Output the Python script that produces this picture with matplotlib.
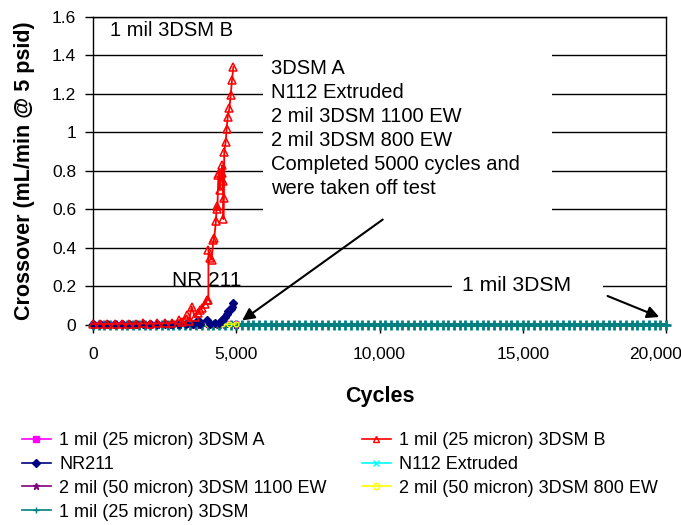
import matplotlib
matplotlib.use('Agg')
import matplotlib.pyplot as plt
from matplotlib.lines import Line2D
from matplotlib.patches import Rectangle
from matplotlib.ticker import FuncFormatter
from matplotlib.transforms import ScaledTranslation

plt.rcParams['font.family'] = ['Liberation Sans', 'DejaVu Sans']

# ---- data ----
short_cycles = [0, 250, 500, 750, 1000, 1250, 1500, 1750, 2000, 2250, 2500,
                2750, 3000, 3250, 3500, 3750, 4000, 4250, 4500, 4750, 5000]

a_vals = [0.010, 0.011, 0.010, 0.012, 0.010, 0.011, 0.010, 0.011, 0.012, 0.010, 0.011,
          0.010, 0.012, 0.011, 0.010, 0.011, 0.012, 0.010, 0.011, 0.010, 0.011]
n112_vals = [0.003, 0.004, 0.003, 0.004, 0.003, 0.003, 0.004, 0.003, 0.004, 0.003, 0.003,
             0.004, 0.003, 0.003, 0.004, 0.003, 0.004, 0.003, 0.003, 0.004, 0.003]
ew1100_vals = [0.002, 0.003, 0.002, 0.002, 0.003, 0.002, 0.002, 0.003, 0.002, 0.002, 0.003,
               0.002, 0.002, 0.003, 0.002, 0.002, 0.003, 0.002, 0.002, 0.003, 0.002]
ew800_vals = [0.004, 0.004, 0.005, 0.004, 0.004, 0.005, 0.004, 0.004, 0.005, 0.004, 0.004,
              0.005, 0.004, 0.004, 0.005, 0.004, 0.004, 0.005, 0.004, 0.004, 0.005]

b_cycles = [0, 250, 500, 750, 1000, 1250, 1500, 1750, 2000, 2250, 2500, 2750, 3000,
            3100, 3270, 3350, 3445, 3550, 3650, 3735, 3800, 3910, 3980, 4025, 4030,
            4100, 4140, 4200, 4230, 4290, 4315, 4340, 4375, 4400, 4430, 4490, 4510,
            4530, 4550, 4570, 4580, 4630, 4665, 4700, 4760, 4805, 4850, 4897]
b_vals = [0.005, 0.006, 0.005, 0.006, 0.007, 0.006, 0.007, 0.008, 0.007, 0.008, 0.009, 0.010, 0.026,
          0.015, 0.050, 0.020, 0.095, 0.040, 0.060, 0.078, 0.090, 0.110, 0.130, 0.130, 0.390,
          0.350, 0.340, 0.440, 0.450, 0.540, 0.620, 0.600, 0.780, 0.790, 0.700, 0.790, 0.830,
          0.750, 0.550, 0.660, 0.900, 0.950, 1.020, 1.080, 1.125, 1.195, 1.270, 1.340]

nr_cycles = [0, 250, 500, 750, 1000, 1250, 1500, 1750, 2000, 2250, 2500, 2750, 3000,
             3250, 3500, 3680, 3750, 3970, 4100, 4250, 4400, 4490, 4550, 4610, 4680,
             4725, 4800, 4840, 4897]
nr_vals = [0.005, 0.005, 0.006, 0.005, 0.005, 0.006, 0.005, 0.005, 0.006, 0.005, 0.005, 0.006, 0.005,
           0.006, 0.005, 0.026, 0.005, 0.026, 0.005, 0.010, 0.010, 0.026, 0.030, 0.043, 0.055,
           0.070, 0.085, 0.095, 0.113]

teal_cycles = list(range(0, 20001, 200))
teal_vals = [0.001, 0.002, 0.001, 0.002, 0.001, 0.002, 0.001, 0.002, 0.001, 0.002,
             0.001, 0.002, 0.001, 0.002, 0.001, 0.002, 0.001, 0.002, 0.001, 0.002,
             0.001, 0.002, 0.001, 0.002, 0.001, 0.002, 0.001, 0.002, 0.001, 0.002,
             0.001, 0.002, 0.001, 0.002, 0.001, 0.002, 0.001, 0.002, 0.001, 0.002,
             0.001, 0.002, 0.001, 0.002, 0.001, 0.002, 0.001, 0.002, 0.001, 0.002,
             0.001, 0.002, 0.001, 0.002, 0.001, 0.002, 0.001, 0.002, 0.001, 0.002,
             0.001, 0.002, 0.001, 0.002, 0.001, 0.002, 0.001, 0.002, 0.001, 0.002,
             0.001, 0.002, 0.001, 0.002, 0.001, 0.002, 0.001, 0.002, 0.001, 0.002,
             0.001, 0.002, 0.001, 0.002, 0.001, 0.002, 0.001, 0.002, 0.001, 0.002,
             0.001, 0.002, 0.001, 0.002, 0.001, 0.002, 0.001, 0.002, 0.001, 0.002,
             0.001]

y_ticks = [0, 0.2, 0.4, 0.6, 0.8, 1.0, 1.2, 1.4, 1.6]
x_ticks = [0, 5000, 10000, 15000, 20000]

# series styles: label, colour, marker, marker face
styles = {
    'a': ('1 mil (25 micron) 3DSM A', '#FF00FF', 's', '#FF00FF'),
    'b': ('1 mil (25 micron) 3DSM B', '#FF0000', '^', 'none'),
    'nr': ('NR211', '#000080', 'D', '#000080'),
    'n112': ('N112 Extruded', '#00FFFF', 'x', '#00FFFF'),
    '1100': ('2 mil (50 micron) 3DSM 1100 EW', '#800080', '*', '#800080'),
    '800': ('2 mil (50 micron) 3DSM 800 EW', '#FFFF00', 'o', 'none'),
    'teal': ('1 mil (25 micron) 3DSM', '#008080', '+', '#008080'),
}

# ---- figure ----
fig = plt.figure(figsize=(6.81, 5.25), dpi=100)
ax = fig.add_axes([0.1366, 0.381, 0.8414, 0.5867])

ax.plot(short_cycles, a_vals, color='#FF00FF', marker='s', ms=3.5, lw=1.2,
        zorder=4, clip_on=False)
ax.plot(b_cycles, b_vals, color='#FF0000', marker='^', ms=6, mfc='none', mew=1.1,
        lw=1.3, zorder=6, clip_on=False)
ax.plot(nr_cycles, nr_vals, color='#000080', marker='D', ms=4, lw=1.3,
        zorder=5, clip_on=False)
ax.plot(short_cycles, n112_vals, color='#00FFFF', marker='x', ms=4, lw=1.2,
        zorder=3, clip_on=False)
ax.plot(short_cycles, ew1100_vals, color='#800080', marker='*', ms=5, lw=1.2,
        zorder=3, clip_on=False)
ax.plot(short_cycles, ew800_vals, color='#FFFF00', marker='o', ms=3.5, mfc='none',
        lw=1.0, zorder=4.5, clip_on=False)
ax.plot(teal_cycles, teal_vals, color='#008080', marker='+', ms=7, mew=2, lw=2.5,
        zorder=4.2, clip_on=False)

ax.set_xlim(0, 20000)
ax.set_ylim(0, 1.6)
ax.set_xticks(x_ticks)
ax.set_yticks(y_ticks)
ax.xaxis.set_major_formatter(FuncFormatter(lambda v, p: f'{int(v):,}'))
ax.yaxis.set_major_formatter(FuncFormatter(lambda v, p: f'{v:g}'))
ax.tick_params(axis='both', labelsize=12.5, direction='out', length=6, width=1, colors='black')
ax.tick_params(axis='x', pad=10)
ax.tick_params(axis='y', pad=6)
ax.grid(axis='y', color='black', lw=1)
ax.set_axisbelow(True)
for s in ax.spines.values():
    s.set_color('black')
    s.set_linewidth(1)

ax.set_xlabel('Cycles', fontsize=15.5, fontweight='bold', labelpad=17)
ax.set_ylabel('Crossover (mL/min @ 5 psid)', fontsize=15.5, fontweight='bold', labelpad=12)

# last x tick label sits a little left, as in the reference
last_lbl = ax.get_xticklabels()[-1]
last_lbl.set_transform(last_lbl.get_transform() + ScaledTranslation(-0.1, 0, fig.dpi_scale_trans))

# white boxes behind the notes
ax.add_patch(Rectangle((5934, 0.52), 10087, 0.91, facecolor='white', edgecolor='none', zorder=1.5))
ax.add_patch(Rectangle((12530, 0.16), 5270, 0.09, facecolor='white', edgecolor='none', zorder=1.5))

ax.text(594, 1.53, '1 mil 3DSM B', fontsize=14.5, ha='left', va='center', zorder=7)
ax.text(6213, 1.38, '3DSM A\nN112 Extruded\n2 mil 3DSM 1100 EW\n2 mil 3DSM 800 EW\n'
        'Completed 5000 cycles and\nwere taken off test',
        fontsize=14.5, ha='left', va='top', linespacing=1.33, zorder=7)
ax.text(2757, 0.232, 'NR 211', fontsize=15, ha='left', va='center', zorder=2)
ax.text(12878, 0.206, '1 mil 3DSM', fontsize=15.2, ha='left', va='center', zorder=2)

ax.annotate('', xy=(5130, 0.015), xytext=(10191, 0.556),
            arrowprops=dict(arrowstyle='-|>', color='black', lw=1.5, mutation_scale=18),
            zorder=8)
ax.annotate('', xy=(19854, 0.036), xytext=(17870, 0.156),
            arrowprops=dict(arrowstyle='-|>', color='black', lw=1.5, mutation_scale=18),
            zorder=8)

# legend with thin proxy lines, filled row by row like the reference
order = ['a', 'nr', '1100', 'teal', 'b', 'n112', '800']
handles = []
for key in order:
    label, color, marker, face = styles[key]
    handles.append(Line2D([], [], color=color, marker=marker, mfc=face, ms=4.5, lw=1.2, label=label))
fig.legend(handles=handles, labels=[h.get_label() for h in handles], ncol=2,
           loc='upper left', bbox_to_anchor=(22 / 681, 1 - 432 / 525), frameon=False,
           fontsize=13, handlelength=1.6, handletextpad=0.45, columnspacing=1.95,
           labelspacing=0.38, borderpad=0, borderaxespad=0)

fig.savefig('out.png', dpi=100)
